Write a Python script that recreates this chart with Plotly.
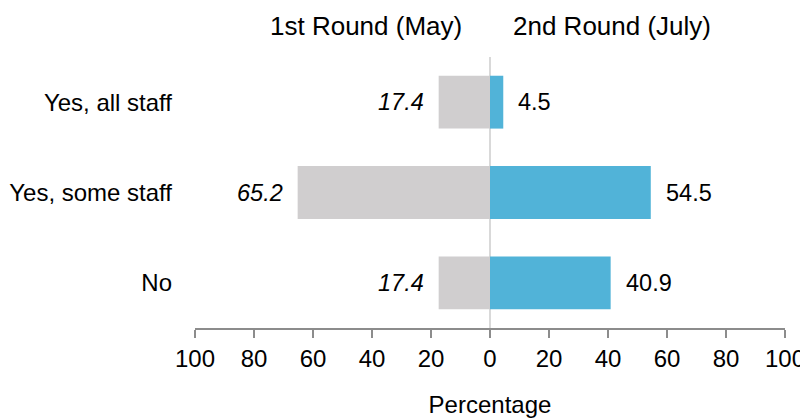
import plotly.graph_objects as go

categories = ["Yes, all staff", "Yes, some staff", "No"]
round1_may = [17.4, 65.2, 17.4]
round2_july = [4.5, 54.5, 40.9]
tick_vals = [-100, -80, -60, -40, -20, 0, 20, 40, 60, 80, 100]
tick_text = ["100", "80", "60", "40", "20", "0", "20", "40", "60", "80", "100"]

FONT = "Liberation Sans, Arial, sans-serif"
GREY = "#D0CECF"
BLUE = "#51B3D8"

fig = go.Figure()
fig.add_trace(go.Bar(y=categories, x=[-v for v in round1_may], orientation="h",
                     marker=dict(color=GREY, line=dict(width=0)), name="1st Round (May)",
                     hoverinfo="skip"))
fig.add_trace(go.Bar(y=categories, x=round2_july, orientation="h",
                     marker=dict(color=BLUE, line=dict(width=0)), name="2nd Round (July)",
                     hoverinfo="skip"))

annotations = []
for c, v in zip(categories, round1_may):
    annotations.append(dict(x=-v, y=c, xref="x", yref="y", text=f"<i>{v:.1f}</i>",
                            showarrow=False, xanchor="right", xshift=-13,
                            font=dict(family=FONT, size=23.5, color="#000")))
for c, v in zip(categories, round2_july):
    annotations.append(dict(x=v, y=c, xref="x", yref="y", text=f"{v:.1f}",
                            showarrow=False, xanchor="left", xshift=13,
                            font=dict(family=FONT, size=23.5, color="#000")))
annotations.append(dict(x=0, y=1, xref="x", yref="paper", yanchor="bottom", yshift=14,
                        text="1st Round (May)", showarrow=False, xanchor="right", xshift=-26,
                        font=dict(family=FONT, size=26, color="#000")))
annotations.append(dict(x=0, y=1, xref="x", yref="paper", yanchor="bottom", yshift=14,
                        text="2nd Round (July)", showarrow=False, xanchor="left", xshift=21,
                        font=dict(family=FONT, size=26, color="#000")))

# page body has an 8px margin, so the figure is 800x410 to fill the 808x418 window
fig.update_layout(
    width=800, height=410,
    margin=dict(l=187, r=23, t=49, b=90),
    barmode="relative", bargap=0.415,
    showlegend=False,
    plot_bgcolor="white", paper_bgcolor="white",
    font=dict(family=FONT, size=22, color="#000"),
    annotations=annotations,
    xaxis=dict(range=[-100, 100], tickvals=tick_vals, ticktext=tick_text,
               automargin=False,
               showgrid=False, showline=True, linecolor="#8C8C8C", linewidth=1.5,
               ticks="outside", ticklen=8, tickcolor="#8C8C8C", tickwidth=1.5,
               zeroline=True, zerolinecolor="#D9D9D9", zerolinewidth=2,
               tickfont=dict(family=FONT, size=24, color="#000"),
               title=dict(text="Percentage", font=dict(family=FONT, size=24, color="#000"),
                          standoff=26)),
    yaxis=dict(categoryorder="array", categoryarray=categories, autorange="reversed",
               automargin=False,
               showgrid=False, showline=False, zeroline=False, ticks="",
               ticklabelstandoff=22,
               tickfont=dict(family=FONT, size=24, color="#000")),
)

fig.write_html("out.html")
